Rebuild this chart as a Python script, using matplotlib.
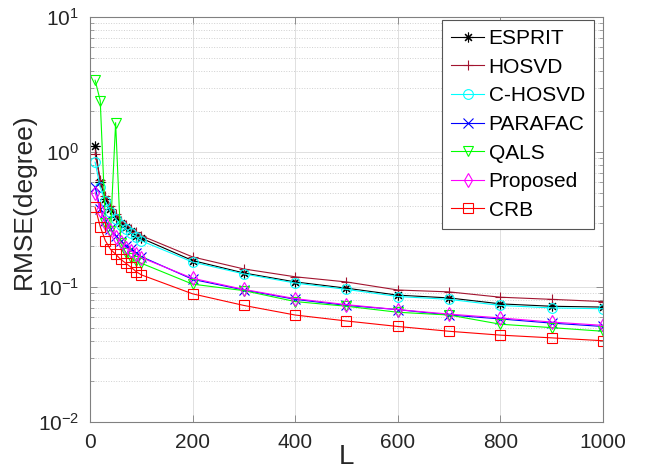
"""
RMSE versus number of snapshots L for several DOA estimators
"""

import matplotlib
matplotlib.use('Agg')
import matplotlib.pyplot as plt
from matplotlib.ticker import LogLocator, LogFormatterSciNotation, NullFormatter

plt.rcParams['font.family'] = ['Liberation Sans', 'DejaVu Sans']
plt.rcParams['mathtext.fontset'] = 'custom'
plt.rcParams['mathtext.rm'] = 'Liberation Sans'
plt.rcParams['mathtext.default'] = 'regular'

# Data
L = [10, 20, 30, 40, 50, 60, 70, 80, 90, 100,
     200, 300, 400, 500, 600, 700, 800, 900, 1000]

esprit = [1.10, 0.60, 0.45, 0.38, 0.33, 0.30, 0.28, 0.26, 0.24, 0.23,
          0.157, 0.127, 0.109, 0.098, 0.087, 0.083, 0.075, 0.072, 0.071]
hosvd = [0.97, 0.62, 0.47, 0.40, 0.35, 0.31, 0.29, 0.27, 0.255, 0.24,
         0.167, 0.136, 0.119, 0.109, 0.095, 0.092, 0.084, 0.081, 0.078]
c_hosvd = [0.84, 0.55, 0.43, 0.36, 0.32, 0.29, 0.27, 0.25, 0.235, 0.22,
           0.153, 0.125, 0.107, 0.096, 0.085, 0.081, 0.073, 0.070, 0.069]
parafac = [0.55, 0.38, 0.31, 0.27, 0.24, 0.22, 0.20, 0.19, 0.18, 0.168,
           0.114, 0.095, 0.081, 0.073, 0.068, 0.062, 0.058, 0.054, 0.051]
qals = [3.4, 2.4, 0.30, 0.26, 1.65, 0.21, 0.18, 0.165, 0.155, 0.15,
        0.105, 0.094, 0.078, 0.072, 0.065, 0.062, 0.053, 0.050, 0.047]
proposed = [0.50, 0.37, 0.30, 0.265, 0.235, 0.215, 0.195, 0.185, 0.175, 0.165,
            0.116, 0.096, 0.082, 0.074, 0.068, 0.063, 0.059, 0.055, 0.052]
crb = [0.39, 0.28, 0.22, 0.19, 0.175, 0.16, 0.15, 0.14, 0.13, 0.123,
       0.089, 0.073, 0.062, 0.056, 0.051, 0.047, 0.044, 0.042, 0.040]

series = [
    ('ESPRIT', esprit, 'black', (8, 2, 0)),
    ('HOSVD', hosvd, '#A2142F', '+'),
    ('C-HOSVD', c_hosvd, 'cyan', 'o'),
    ('PARAFAC', parafac, 'blue', 'x'),
    ('QALS', qals, '#00FF00', 'v'),
    ('Proposed', proposed, 'magenta', 'd'),
    ('CRB', crb, 'red', 's'),
]


def plot_rmse():
    fig = plt.figure(figsize=(6.45, 4.69), dpi=100)
    ax = fig.add_axes([0.1395, 0.1002, 0.7954, 0.8636])

    for name, vals, color, marker in series:
        ax.plot(L, vals, color=color, marker=marker, markersize=7,
                markerfacecolor='none', markeredgewidth=0.8,
                linewidth=0.8, label=name)

    ax.set_yscale('log')
    ax.set_xlim(0, 1000)
    ax.set_ylim(1e-2, 1e1)
    ax.set_xticks(range(0, 1001, 200))
    ax.yaxis.set_major_locator(LogLocator(base=10, numticks=10))
    ax.yaxis.set_major_formatter(LogFormatterSciNotation())
    ax.yaxis.set_minor_locator(LogLocator(base=10, subs=range(2, 10), numticks=20))
    ax.yaxis.set_minor_formatter(NullFormatter())

    # MATLAB-like box, inward ticks and grid
    for sp in ax.spines.values():
        sp.set_color('#808080')
        sp.set_linewidth(0.8)
    ax.tick_params(which='both', direction='in', top=True, right=True,
                   colors='#808080', labelcolor='#262626', labelsize=15)
    ax.tick_params(which='major', length=5, width=0.6, pad=8)
    ax.tick_params(which='minor', length=3, width=0.5)
    ax.grid(True, which='major', color='#e0e0e0', linestyle='-', linewidth=0.7)
    ax.grid(True, which='minor', axis='y', color='#d0d0d0', linestyle=':', linewidth=0.7)
    ax.set_axisbelow(True)

    ax.set_xlabel('L', fontsize=20, color='#262626')
    ax.set_ylabel('RMSE(degree)', fontsize=19, color='#262626')
    ax.xaxis.set_label_coords(0.5, -0.055)
    ax.yaxis.set_label_coords(-0.105, 0.546)

    leg = ax.legend(loc='upper right', bbox_to_anchor=(0.983, 0.993),
                    fontsize=15, fancybox=False, framealpha=1,
                    edgecolor='#555555', handlelength=1.6,
                    handletextpad=0.2, labelspacing=0.46, borderpad=0.45,
                    borderaxespad=0)
    leg.get_frame().set_linewidth(0.8)

    fig.savefig('out.png', dpi=100)


if __name__ == "__main__":
    plot_rmse()
